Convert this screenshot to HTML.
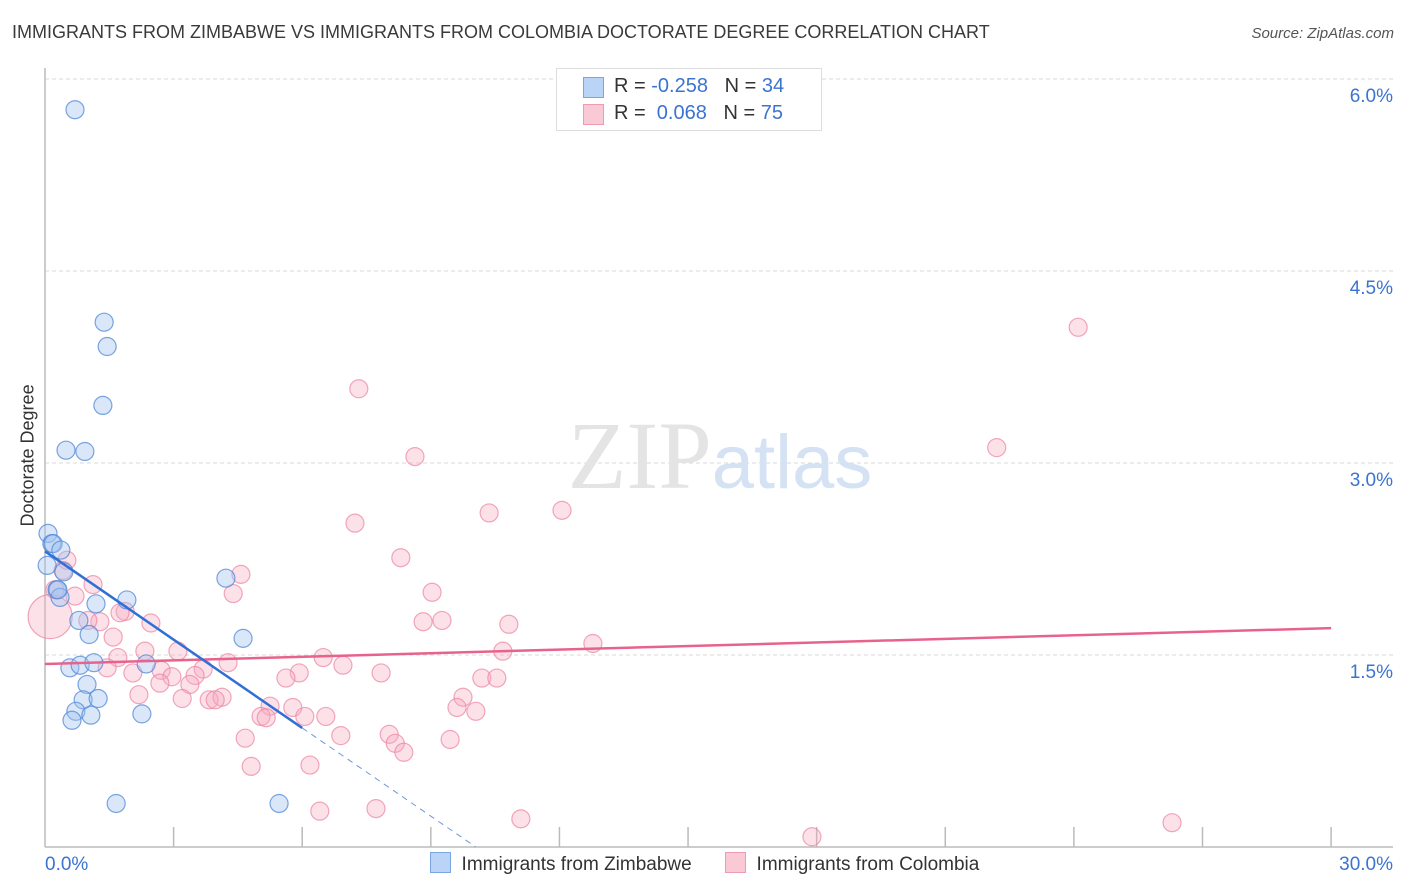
<!DOCTYPE html>
<html><head><meta charset="utf-8"><style>
body{margin:0;background:#fff;font-family:"Liberation Sans",sans-serif;}
#wrap{position:relative;width:1406px;height:892px;}
.t{position:absolute;white-space:nowrap}
</style></head><body><div id="wrap">
<div class="t" style="left:12px;top:22px;font-size:18px;color:#3a3a3a">IMMIGRANTS FROM ZIMBABWE VS IMMIGRANTS FROM COLOMBIA DOCTORATE DEGREE CORRELATION CHART</div>
<div class="t" style="right:12px;top:25px;font-size:15px;color:#555;font-style:italic">Source: ZipAtlas.com</div>
<div class="t" style="left:-42px;top:446px;font-size:18px;color:#333;transform:rotate(-90deg);transform-origin:center;width:140px;text-align:center">Doctorate Degree</div>
<svg id="svg" width="1406" height="892" style="position:absolute;left:0;top:0"></svg>
<div class="t" style="left:556px;top:68px;width:264px;height:61px;border:1px solid #ddd;background:#fff;font-size:20px;color:#333">
<div style="position:absolute;left:26px;top:8px;width:19px;height:19px;background:#b9d4f6;border:1px solid #7aa6e0"></div>
<div style="position:absolute;left:57px;top:6px">R = <span style="color:#3b74d0">-0.258</span>&nbsp;&nbsp;&nbsp;N = <span style="color:#3b74d0">34</span></div>
<div style="position:absolute;left:26px;top:35px;width:19px;height:19px;background:#f9c9d6;border:1px solid #ee9ab2"></div>
<div style="position:absolute;left:57px;top:33px">R = &nbsp;<span style="color:#3b74d0">0.068</span>&nbsp;&nbsp;&nbsp;N = <span style="color:#3b74d0">75</span></div>
</div>
<div class="t" style="left:430px;top:852px;font-size:19px;color:#333">
<span style="display:inline-block;width:19px;height:19px;background:#b9d4f6;border:1px solid #7aa6e0;vertical-align:-3px"></span>&nbsp; Immigrants from Zimbabwe
<span style="display:inline-block;width:19px;height:19px;background:#f9c9d6;border:1px solid #ee9ab2;vertical-align:-3px;margin-left:28px"></span>&nbsp; Immigrants from Colombia</div>
</div>
<script>
const yTicks=[1.5,3.0,4.5,6.0];
const xTickLabels=["0.0%","30.0%"];
const zimX=[0.70,1.38,1.45,1.35,0.49,0.93,0.07,0.16,0.19,0.37,0.44,0.28,0.35,1.19,1.91,4.22,4.62,0.79,1.03,0.58,0.82,1.14,2.36,0.98,0.89,1.24,0.72,0.63,1.07,2.26,1.66,5.46,0.05,0.30];
const zimY=[5.76,4.10,3.91,3.45,3.10,3.09,2.45,2.37,2.37,2.32,2.15,2.01,1.95,1.90,1.93,2.10,1.63,1.77,1.66,1.40,1.42,1.44,1.43,1.27,1.15,1.16,1.06,0.99,1.03,1.04,0.34,0.34,2.20,2.01];
const colX=[24.1,7.32,22.2,8.63,7.23,10.36,12.06,8.30,9.03,4.57,4.39,0.51,1.12,0.42,0.23,0.70,1.87,2.47,1.28,1.00,1.59,8.82,9.26,10.82,12.78,3.10,2.33,1.70,10.68,6.49,6.95,4.27,3.69,1.45,2.05,2.71,2.96,3.50,2.68,5.93,7.84,5.62,10.19,10.54,3.38,2.19,3.20,3.83,4.13,3.97,9.75,9.61,10.05,5.25,5.78,6.06,6.55,5.04,5.16,4.67,6.90,8.03,8.17,8.37,9.45,4.81,6.18,6.41,7.72,11.10,17.89,26.29,0.12,1.75];
const colY=[4.06,3.58,3.12,3.05,2.53,2.61,2.63,2.26,1.99,2.13,1.98,2.24,2.05,2.16,2.01,1.96,1.84,1.75,1.76,1.77,1.64,1.76,1.77,1.74,1.59,1.53,1.53,1.48,1.53,1.48,1.42,1.44,1.39,1.40,1.36,1.38,1.33,1.34,1.28,1.36,1.36,1.32,1.32,1.32,1.27,1.19,1.16,1.15,1.17,1.15,1.17,1.09,1.06,1.10,1.09,1.02,1.02,1.02,1.01,0.85,0.87,0.88,0.81,0.74,0.84,0.63,0.64,0.28,0.30,0.22,0.08,0.19,1.80,1.83];
const W=1406,svg=document.getElementById('svg'),NS='http://www.w3.org/2000/svg';
const sx=v=>45+v*42.87, sy=v=>847-v*128;
function mk(tag,at,parent){const e=document.createElementNS(NS,tag);for(const k in at)e.setAttribute(k,at[k]);(parent||svg).appendChild(e);return e;}
// gridlines & y labels
yTicks.forEach(v=>{
 const g=mk('line',{x1:45,x2:1393,y1:sy(v),y2:sy(v),stroke:'#d8d8d8','stroke-dasharray':'4,3'});
 
 
 const t=mk('text',{x:1393,y:sy(v)+23,'text-anchor':'end','font-size':19,fill:'#3b74d0','font-family':'Liberation Sans'});
 t.textContent=v.toFixed(1)+'%';
 
 
});
// axes
const ya=mk('line',{x1:45,x2:45,y1:68,y2:847,stroke:'#bbb','stroke-width':1.5});


const xa=mk('line',{x1:45,x2:1393,y1:847,y2:847,stroke:'#bbb','stroke-width':1.5});


for(let i=1;i<=10;i++){const tk=mk('line',{x1:sx(i*3),x2:sx(i*3),y1:827,y2:847,stroke:'#bbb','stroke-width':1.5});
 
 }
[[0,'start',45],[30,'end',1393]].forEach((a,i)=>{const t=mk('text',{x:a[2],y:870,'text-anchor':a[1],'font-size':19,fill:'#3b74d0','font-family':'Liberation Sans'});t.textContent=xTickLabels[i];
 
 });
// watermark
const wm=mk('text',{x:720,y:488,'text-anchor':'middle','font-size':96,'font-family':'Liberation Serif',fill:'#e4e4e4'});
wm.innerHTML='ZIP<tspan font-family="Liberation Sans" font-size="76" fill="#d4e2f4">atlas</tspan>';


// points
colX.forEach((x,i)=>{const c=mk('circle',{cx:sx(x),cy:sy(colY[i]),r:(i===colX.length-2?22:9),fill:'rgba(247,170,193,0.35)',stroke:'rgba(236,130,160,0.7)','stroke-width':1.2});
 
 });
zimX.forEach((x,i)=>{const c=mk('circle',{cx:sx(x),cy:sy(zimY[i]),r:9,fill:'rgba(160,195,240,0.4)',stroke:'rgba(80,135,215,0.75)','stroke-width':1.2});
 
 });
// trend lines
const pl=mk('line',{x1:sx(0),y1:sy(1.43),x2:sx(30),y2:sy(1.71),stroke:'#e8638c','stroke-width':2.5});


const bl=mk('line',{x1:sx(0),y1:sy(2.31),x2:sx(6),y2:sy(0.93),stroke:'#2f6fd6','stroke-width':2.5});


const bd=mk('line',{x1:sx(6),y1:sy(0.93),x2:sx(10.05),y2:sy(0),stroke:'#6f98dc','stroke-width':1,'stroke-dasharray':'6,5'});


</script></body></html>
